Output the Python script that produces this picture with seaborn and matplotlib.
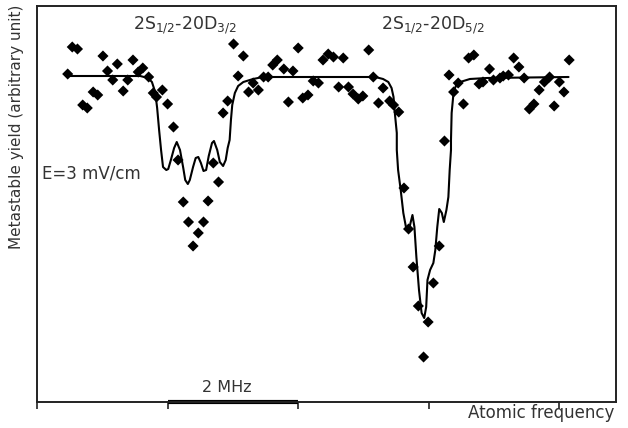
import numpy as np
import matplotlib
matplotlib.use("Agg")
import matplotlib.pyplot as plt
import pandas as pd
import seaborn as sns

# measured points (frequency in MHz, yield in arbitrary units)
freq = [0.47, 0.54, 0.62, 0.70, 0.77, 0.86, 0.93, 1.01, 1.08, 1.16,
        1.23, 1.32, 1.39, 1.47, 1.55, 1.62, 1.71, 1.78, 1.83, 1.92,
        2.00, 2.09, 2.16, 2.24, 2.32, 2.39, 2.47, 2.55, 2.62, 2.70,
        2.78, 2.85, 2.92, 3.01, 3.08, 3.16, 3.24, 3.31, 3.39, 3.47,
        3.54, 3.61, 3.68, 3.78, 3.85, 3.92, 4.00, 4.07, 4.15, 4.23,
        4.31, 4.38, 4.46, 4.54, 4.62, 4.69, 4.77, 4.84, 4.92, 4.99,
        5.08, 5.15, 5.23, 5.30, 5.40, 5.46, 5.54, 5.62, 5.69, 5.76,
        5.84, 5.92, 5.99, 6.07, 6.16, 6.24, 6.31, 6.38, 6.45, 6.53,
        6.61, 6.69, 6.77, 6.83, 6.93, 6.99, 7.09, 7.14, 7.22, 7.30,
        7.38, 7.46, 7.54, 7.61, 7.69, 7.77, 7.85, 7.92, 8.00, 8.07,
        8.15]
yield_ = [3.28, 3.55, 3.53, 2.97, 2.94, 3.10, 3.07, 3.46, 3.31, 3.22,
          3.38, 3.11, 3.22, 3.42, 3.30, 3.34, 3.25, 3.09, 3.05, 3.12,
          2.98, 2.75, 2.42, 2.00, 1.80, 1.56, 1.69, 1.80, 2.01, 2.39,
          2.20, 2.89, 3.01, 3.58, 3.26, 3.46, 3.10, 3.19, 3.12, 3.25,
          3.25, 3.37, 3.42, 3.33, 3.00, 3.31, 3.54, 3.04, 3.07, 3.21,
          3.19, 3.42, 3.48, 3.45, 3.15, 3.44, 3.15, 3.08, 3.03, 3.06,
          3.52, 3.25, 2.99, 3.14, 3.01, 2.97, 2.90, 2.14, 1.73, 1.35,
          0.96, 0.45, 0.80, 1.19, 1.56, 2.61, 3.27, 3.10, 3.19, 2.98,
          3.44, 3.47, 3.18, 3.20, 3.33, 3.22, 3.24, 3.26, 3.27, 3.44,
          3.35, 3.24, 2.93, 2.98, 3.12, 3.20, 3.25, 2.96, 3.20, 3.10,
          3.42]

# fitted line
fit_freq = [0.47, 1.58, 1.70, 1.76, 1.81, 1.84, 1.87, 1.90, 1.93, 1.98,
            2.01, 2.05, 2.10, 2.14, 2.19, 2.24, 2.27, 2.31, 2.34, 2.39,
            2.43, 2.47, 2.51, 2.55, 2.59, 2.63, 2.68, 2.71, 2.76, 2.80,
            2.85, 2.89, 2.92, 2.95, 2.97, 2.99, 3.03, 3.08, 3.16, 3.31,
            3.46, 5.18, 5.30, 5.38, 5.43, 5.46, 5.48, 5.51, 5.51, 5.53,
            5.57, 5.61, 5.65, 5.69, 5.72, 5.75, 5.78, 5.81, 5.85, 5.89,
            5.93, 5.96, 5.98, 6.02, 6.07, 6.10, 6.13, 6.16, 6.20, 6.23,
            6.27, 6.30, 6.32, 6.34, 6.34, 6.35, 6.38, 6.42, 6.48, 6.63,
            6.89, 8.14]
fit_yield = [3.26, 3.26, 3.24, 3.20, 3.10, 2.94, 2.72, 2.52, 2.35, 2.32,
             2.33, 2.42, 2.54, 2.60, 2.52, 2.34, 2.22, 2.18, 2.22, 2.35,
             2.44, 2.45, 2.39, 2.31, 2.32, 2.46, 2.59, 2.61, 2.52, 2.40,
             2.36, 2.42, 2.54, 2.62, 2.82, 2.97, 3.09, 3.16, 3.20, 3.23,
             3.25, 3.25, 3.23, 3.20, 3.14, 3.05, 2.89, 2.69, 2.52, 2.32,
             2.12, 1.89, 1.75, 1.70, 1.79, 1.87, 1.75, 1.45, 1.12, 0.89,
             0.84, 0.95, 1.22, 1.32, 1.39, 1.52, 1.75, 1.93, 1.89, 1.80,
             1.92, 2.05, 2.32, 2.52, 2.62, 2.89, 3.10, 3.17, 3.20, 3.23,
             3.24, 3.25]

ticks = [0, 2, 4, 6, 8]
scale_bar = [2, 4]

pts = pd.DataFrame({"f": freq, "y": yield_})
fit = pd.DataFrame({"f": fit_freq, "y": fit_yield})

sns.set_style("white")
plt.rcParams["font.family"] = ["DejaVu Sans"]
txt = "#333333"

fig = plt.figure(figsize=(6.28, 4.28), dpi=100)
ax = fig.add_axes([37 / 628, 26 / 428, 579 / 628, 396 / 428])

sns.lineplot(data=fit, x="f", y="y", sort=False, estimator=None,
             color="black", lw=1.5, ax=ax)
sns.scatterplot(data=pts, x="f", y="y", marker="D", s=32, color="black",
                edgecolor="none", ax=ax)

ax.set_xlim(0, 8.867)
ax.set_ylim(0, 3.96)
ax.set_xticks(ticks)
ax.set_xticklabels([])
ax.set_yticks([])
ax.set_xlabel("")
ax.set_ylabel("")
ax.tick_params(axis="x", bottom=True, direction="out", length=5, width=1.2,
               color="#222222")
for s in ax.spines.values():
    s.set_color("#222222")
    s.set_linewidth(1.4)

ax.plot(scale_bar, [0, 0], color="black", lw=3, clip_on=False,
        solid_capstyle="butt")
ax.text(2.9, 0.14, "2 MHz", ha="center", va="center", fontsize=11.5, color=txt)

ax.text(2.27, 3.77, r"2S$_{1/2}$-20D$_{3/2}$", ha="center", va="center",
        fontsize=12.5, color=txt)
ax.text(6.07, 3.77, r"2S$_{1/2}$-20D$_{5/2}$", ha="center", va="center",
        fontsize=12.5, color=txt)
ax.text(0.07, 2.29, "E=3 mV/cm", ha="left", va="center", fontsize=12,
        color=txt)

fig.text(17 / 628, 1 - 5 / 428, "Metastable yield (arbitrary unit)",
         rotation=90, ha="center", va="top", fontsize=11, color=txt)
fig.text(614 / 628, 1 - 413 / 428, "Atomic frequency", ha="right",
         va="center", fontsize=12, color=txt)

fig.savefig("out.png", dpi=100)
